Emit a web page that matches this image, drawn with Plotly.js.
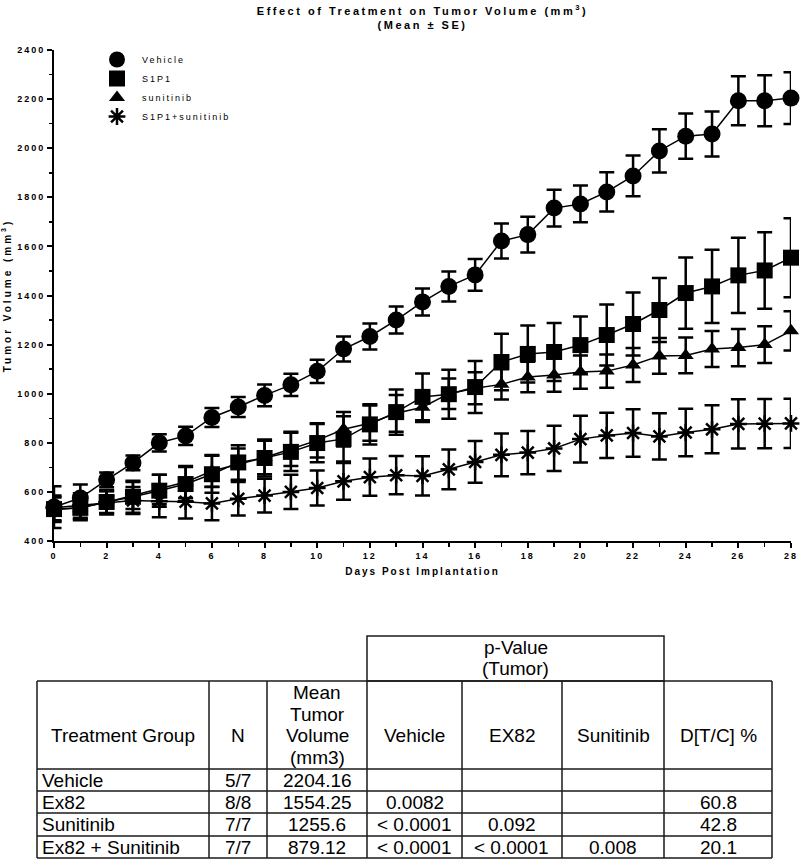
<!DOCTYPE html>
<html><head><meta charset="utf-8">
<script src="https://cdn.plot.ly/plotly-3.0.1.min.js"></script>
<style>
html,body{margin:0;padding:0;background:#fff;}
#chart{width:800px;height:861px;}
.xtick text, .ytick text, .g-xtitle text, .legendtext { letter-spacing: 2px; }
.g-gtitle text { letter-spacing: 2.5px; }
.g-ytitle text { letter-spacing: 3px; }
</style></head><body><div id="chart"></div>
<script>
// ---------- chart data ----------
const days = [0,1,2,3,4,5,6,7,8,9,10,11,12,13,14,15,16,17,18,19,20,21,22,23,24,25,26,27,28];
const seriesNames = ['Vehicle','S1P1','sunitinib','S1P1+sunitinib'];
const vehicleMean = [538,575,649,718,800,828,903,946,993,1036,1091,1182,1233,1300,1374,1437,1484,1622,1648,1756,1773,1822,1887,1989,2049,2058,2193,2193,2204];
const vehicleSE   = [85,55,30,30,35,37,39,41,44,45,47,51,53,55,55,61,65,71,73,75,75,80,83,88,92,92,100,104,105];
const s1p1Mean = [530,535,559,580,605,632,672,720,738,763,799,816,875,925,987,998,1027,1129,1162,1170,1198,1239,1284,1341,1410,1437,1482,1502,1554];
const s1p1SE   = [50,50,45,65,65,69,75,70,75,78,78,92,82,92,95,100,106,115,116,118,116,124,128,130,145,149,153,156,161];
const sunitinibMean = [527,535,558,585,610,640,685,712,740,775,810,855,880,920,945,1000,1022,1038,1068,1076,1088,1092,1117,1154,1156,1182,1188,1200,1256];
const sunitinibSE   = [50,45,45,55,60,65,65,65,68,70,70,70,72,75,60,62,65,62,62,68,68,68,69,73,73,73,76,75,80];
const comboMean = [535,545,558,565,562,560,553,572,585,600,616,643,660,668,665,692,722,751,760,777,815,830,840,826,842,855,877,878,879];
const comboSE   = [50,50,50,55,65,68,68,68,69,70,71,75,76,78,80,81,85,87,88,92,95,92,97,94,97,98,100,100,100];

// ---------- table data ----------
const tableHeader = [['Treatment Group'],['N'],['Mean','Tumor','Volume','(mm3)'],['Vehicle'],['EX82'],['Sunitinib'],['D[T/C] %']];
const pValueHeader = ['p-Value','(Tumor)'];
const groups = ['Vehicle','Ex82','Sunitinib','Ex82 + Sunitinib'];
const nCounts = ['5/7','8/8','7/7','7/7'];
const meanVolumes = ['2204.16','1554.25','1255.6','879.12'];
const pVsVehicle = ['','0.0082','< 0.0001','< 0.0001'];
const pVsEx82 = ['','','0.092','< 0.0001'];
const pVsSunitinib = ['','','','0.008'];
const dTC = ['','60.8','42.8','20.1'];

// ---------- layout geometry (pixels) ----------
const W = 800, H = 861;
const plotL = 54, plotR = 791, plotT = 50, plotB = 541;
const px2x = p => (p - plotL) / (plotR - plotL);
const px2y = p => (plotB - p) / (plotB - plotT);
const colEdges = [37,209,267,367,462,562,664,772];
const rowEdges = [681,769,791,813,836,858];
const pBox = {x0:367, x1:664, y0:636, y1:681};
const LINE_H = 21.7;
const FONT = 'Liberation Sans, Arial, sans-serif';

const lineStyle = {color:'black', width:1.5};
const errStyle = arr => ({type:'data', array:arr, visible:true, color:'black', thickness:2.5, width:7.5});

const seriesDefs = [
  {name:seriesNames[3], y:comboMean, e:comboSE, marker:{symbol:'asterisk-open', size:14, color:'black', line:{color:'black', width:2.5}}},
  {name:seriesNames[2], y:sunitinibMean, e:sunitinibSE, marker:{symbol:'triangle-up', size:14, color:'black', line:{width:0}}},
  {name:seriesNames[1], y:s1p1Mean, e:s1p1SE, marker:{symbol:'square', size:16, color:'black', line:{width:0}}},
  {name:seriesNames[0], y:vehicleMean, e:vehicleSE, marker:{symbol:'circle', size:17, color:'black', line:{width:0}}}
];

const traces = [];
seriesDefs.forEach(s => traces.push({x:days, y:s.y, type:'scatter', mode:'lines', line:lineStyle, showlegend:false, hoverinfo:'skip', cliponaxis:false}));
seriesDefs.forEach(s => traces.push({x:days, y:s.y, name:s.name, type:'scatter', mode:'markers', marker:s.marker, error_y:errStyle(s.e), cliponaxis:false}));

// ---------- table shapes & annotations ----------
const shapes = [];
const annotations = [];
const lineCol = '#1a1a1a';
rowEdges.forEach(r => shapes.push({type:'line', xref:'paper', yref:'paper', x0:px2x(colEdges[0]), x1:px2x(colEdges[colEdges.length-1]), y0:px2y(r), y1:px2y(r), line:{color:lineCol, width:1.5}}));
colEdges.forEach(c => shapes.push({type:'line', xref:'paper', yref:'paper', x0:px2x(c), x1:px2x(c), y0:px2y(rowEdges[0]), y1:px2y(rowEdges[rowEdges.length-1]), line:{color:lineCol, width:1.5}}));
shapes.push({type:'rect', xref:'paper', yref:'paper', x0:px2x(pBox.x0), x1:px2x(pBox.x1), y0:px2y(pBox.y0), y1:px2y(pBox.y1), line:{color:lineCol, width:1.5}});

const tfont = {family:FONT, size:19, color:'black'};
const colCenter = i => (colEdges[i] + colEdges[i+1]) / 2;
function addLines(lines, xc, yc) {
  const n = lines.length;
  lines.forEach((t, k) => {
    const y = yc + (k - (n - 1) / 2) * LINE_H;
    annotations.push({text:t, xref:'paper', yref:'paper', x:px2x(xc), y:px2y(y), xanchor:'center', yanchor:'middle', showarrow:false, font:tfont});
  });
}
tableHeader.forEach((lines, i) => addLines(lines, colCenter(i), lines.length > 1 ? 725 : 735));
addLines(pValueHeader, (pBox.x0 + pBox.x1) / 2, 658);
const tableCols = [groups, nCounts, meanVolumes, pVsVehicle, pVsEx82, pVsSunitinib, dTC];
for (let r = 0; r < groups.length; r++) {
  const yc = (rowEdges[r+1] + rowEdges[r+2]) / 2;
  tableCols.forEach((col, i) => {
    if (!col[r]) return;
    annotations.push({text:col[r], xref:'paper', yref:'paper',
      x: i === 0 ? px2x(colEdges[0] + 3) : px2x(colCenter(i)), y:px2y(yc),
      xanchor: i === 0 ? 'left' : 'center', yanchor:'middle', showarrow:false, font:tfont});
  });
}

const tickFont = {family:FONT, size:9, color:'black', weight:'bold'};
const layout = {
  width:W, height:H,
  margin:{l:plotL, r:W-plotR, t:plotT, b:H-plotB},
  paper_bgcolor:'white', plot_bgcolor:'white',
  font:{family:FONT, color:'black'},
  title:{text:'Effect of Treatment on Tumor Volume (mm<sup>3</sup>)<br>(Mean ± SE)', xref:'paper', x:0.5, xanchor:'center', yref:'container', y:1-15/H, yanchor:'middle', font:{family:FONT, size:11, weight:'bold', color:'black'}},
  xaxis:{range:[0,28], tick0:0, dtick:2, ticks:'outside', ticklen:5, tickwidth:2, tickcolor:'black', showline:true, linecolor:'black', linewidth:2, showgrid:false, zeroline:false, tickfont:tickFont, automargin:false,
    minor:{dtick:1, ticks:'outside', ticklen:4, tickwidth:1.5, tickcolor:'black', showgrid:false},
    title:{text:'Days Post Implantation', font:{family:FONT, size:10, weight:'bold', color:'black'}, standoff:8}},
  yaxis:{range:[400,2400], tick0:400, dtick:200, ticks:'outside', ticklen:5, tickwidth:2, tickcolor:'black', showline:true, linecolor:'black', linewidth:2, showgrid:false, zeroline:false, tickfont:tickFont, automargin:false,
    minor:{dtick:100, ticks:'outside', ticklen:3, tickwidth:1.5, tickcolor:'black', showgrid:false},
    title:{text:'Tumor Volume (mm<sup>3</sup>)', font:{family:FONT, size:10, weight:'bold', color:'black'}, standoff:4}},
  legend:{x:px2x(92), y:px2y(45), xanchor:'left', yanchor:'top', bgcolor:'rgba(0,0,0,0)', traceorder:'reversed', itemwidth:40, font:{family:FONT, size:9, color:'black'}},
  shapes:shapes, annotations:annotations, showlegend:true
};
Plotly.newPlot('chart', traces, layout, {displayModeBar:false, staticPlot:true});
</script></body></html>
